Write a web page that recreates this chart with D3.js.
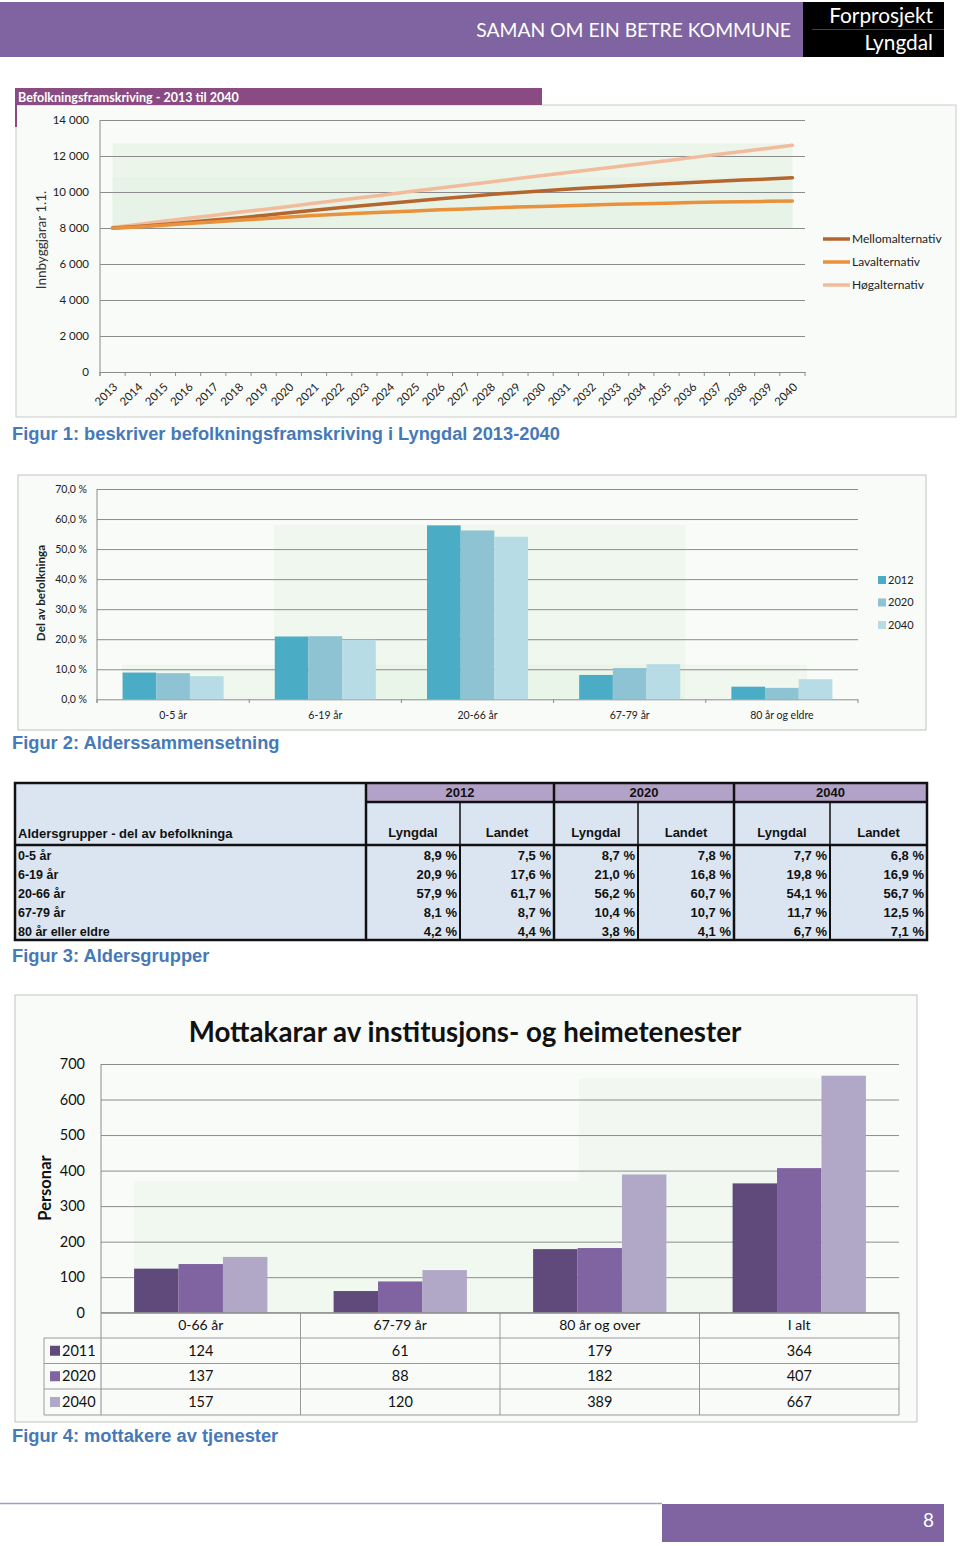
<!DOCTYPE html>
<html><head><meta charset="utf-8">
<script src="https://cdn.jsdelivr.net/npm/d3@7"></script>
<style>body{margin:0;background:#fff} svg{display:block}</style>
</head><body><svg id="page" width="960" height="1546"></svg>
<script>
// ---------- DATA ----------
const years = ["2013","2014","2015","2016","2017","2018","2019","2020","2021","2022","2023","2024","2025","2026","2027","2028","2029","2030","2031","2032","2033","2034","2035","2036","2037","2038","2039","2040"];
const mellom = [8000,8090,8200,8320,8440,8560,8700,8850,8990,9120,9250,9380,9500,9620,9740,9860,9960,10060,10150,10230,10310,10390,10460,10530,10600,10660,10720,10790];
const lav    = [7990,8060,8150,8250,8340,8430,8520,8610,8690,8760,8830,8890,8950,9010,9060,9110,9160,9200,9240,9280,9320,9350,9380,9410,9440,9460,9480,9500];
const hog    = [8030,8200,8370,8540,8700,8870,9030,9200,9370,9540,9710,9880,10050,10220,10390,10560,10730,10900,11070,11230,11400,11570,11740,11910,12080,12250,12420,12600];
const popSeries = ["Mellomalternativ","Lavalternativ","Høgalternativ"];
const popTicks = [0,2000,4000,6000,8000,10000,12000,14000];

const ageGroups = ["0-5 år","6-19 år","20-66 år","67-79 år","80 år og eldre"];
const shareYears = ["2012","2020","2040"];
const share2012 = [8.9,20.9,57.9,8.1,4.2];
const share2020 = [8.7,21.0,56.2,10.4,3.8];
const share2040 = [7.7,19.8,54.1,11.7,6.7];
const shareTicks = [0,10,20,30,40,50,60,70];

const tableRows = ["0-5 år","6-19 år","20-66 år","67-79 år","80 år eller eldre"];
const tableYears = ["2012","2020","2040"];
const tableCols = ["Lyngdal","Landet"];
const landet2012 = [7.5,17.6,61.7,8.7,4.4];
const landet2020 = [7.8,16.8,60.7,10.7,4.1];
const landet2040 = [6.8,16.9,56.7,12.5,7.1];

const serviceGroups = ["0-66 år","67-79 år","80 år og over","I alt"];
const recvYears = ["2011","2020","2040"];
const recv2011 = [124,61,179,364];
const recv2020 = [137,88,182,407];
const recv2040 = [157,120,389,667];
const recvTicks = [0,100,200,300,400,500,600,700];

// ---------- HELPERS ----------
const svg = d3.select("#page");
const loc = d3.formatLocale({decimal:",", thousands:" ", grouping:[3], currency:["","kr"]});
const fThousands = loc.format(",d");
const fPct = loc.format(".1f");
const CAL = "Lato, 'Open Sans', sans-serif";
const ARI = "'Liberation Sans', Arial, sans-serif";
const capColor = "#4579b8";
const capSize = "18.3px";

// ---------- HEADER ----------
svg.append("rect").attr("x",0).attr("y",2).attr("width",803).attr("height",55).attr("fill","#8064a2");
svg.append("rect").attr("x",803).attr("y",2).attr("width",141).attr("height",55).attr("fill","#000");
svg.append("line").attr("x1",812).attr("x2",944).attr("y1",29.5).attr("y2",29.5).attr("stroke","#444");
svg.append("text").attr("x",791).attr("y",37).attr("text-anchor","end").attr("fill","#fff")
  .style("font-family",CAL).style("font-size","19.3px").text("SAMAN OM EIN BETRE KOMMUNE");
svg.append("text").attr("x",933).attr("y",23).attr("text-anchor","end").attr("fill","#fff")
  .style("font-family",CAL).style("font-size","20.8px").text("Forprosjekt");
svg.append("text").attr("x",933).attr("y",50).attr("text-anchor","end").attr("fill","#fff")
  .style("font-family",CAL).style("font-size","20.8px").text("Lyngdal");

// ---------- CHART 1 ----------
const c1 = svg.append("g");
c1.append("rect").attr("x",16).attr("y",105).attr("width",940).attr("height",312).attr("fill","#f8fbf8").attr("stroke","#c8cbc8");
c1.append("rect").attr("x",15).attr("y",88).attr("width",527).attr("height",17).attr("fill","#8a4a82");
c1.append("rect").attr("x",15).attr("y",105).attr("width",2).attr("height",22).attr("fill","#8a4a82");
c1.append("text").attr("x",18).attr("y",101.5).attr("fill","#fff").style("font-family",CAL).style("font-weight","bold").style("font-size","12.5px")
  .text("Befolkningsframskriving - 2013 til 2040");

const x1 = d3.scaleBand().domain(years).range([100,805]).padding(0);
const y1 = d3.scaleLinear().domain([0,14000]).range([372,120]);
c1.append("rect").attr("x",x1("2013")+x1.bandwidth()/2).attr("y",y1(12700)).attr("width",x1("2040")-x1("2013"))
  .attr("height",y1(8000)-y1(12700)).attr("fill","#e3f2e1").attr("opacity",0.6);
c1.append("rect").attr("x",x1("2013")+x1.bandwidth()/2).attr("y",y1(10800)).attr("width",x1("2040")-x1("2013"))
  .attr("height",y1(8000)-y1(10800)).attr("fill","#e3f2e1").attr("opacity",0.5);

c1.append("g").attr("transform","translate(100,0)")
  .call(d3.axisLeft(y1).tickValues(popTicks).tickSize(-705).tickFormat(fThousands).tickPadding(11))
  .call(g=>{g.select(".domain").remove();
    g.selectAll(".tick line").attr("stroke","#8c8c8c");
    g.selectAll(".tick text").style("font-family",CAL).style("font-size","11.5px").attr("fill","#222");});
c1.append("line").attr("x1",100).attr("x2",100).attr("y1",120).attr("y2",376).attr("stroke","#8c8c8c");
const xa1 = c1.append("g").attr("transform","translate(0,372)")
  .call(d3.axisBottom(x1).tickSize(0).tickFormat(""));
xa1.select(".domain").attr("stroke","#8c8c8c");
c1.selectAll(".xt1").data(years.concat(["end"])).enter().append("line")
  .attr("x1",d=>d==="end"?805:x1(d)).attr("x2",d=>d==="end"?805:x1(d)).attr("y1",372).attr("y2",376).attr("stroke","#8c8c8c");
c1.selectAll(".xl1").data(years).enter().append("text")
  .attr("transform",d=>`translate(${x1(d)+x1.bandwidth()/2},${382}) rotate(-45)`)
  .attr("text-anchor","end").attr("dy","0.7em").style("font-family",CAL).style("font-size","11.5px").attr("fill","#222").text(d=>d);
c1.append("text").attr("transform","translate(46,240) rotate(-90)").attr("text-anchor","middle")
  .style("font-family",CAL).style("font-size","13.5px").attr("fill","#333").text("Innbyggjarar 1.1.");

const popData = [mellom, lav, hog];
const popColors = ["#b5662f","#e9913b","#f2bb9b"];
const line1 = d3.line().x((d,i)=>x1(years[i])+x1.bandwidth()/2).y(d=>y1(d));
[2,0,1].forEach(i=>{
  c1.append("path").datum(popData[i]).attr("d",line1).attr("fill","none").attr("stroke",popColors[i]).attr("stroke-width",3.5).attr("stroke-linecap","round");
});
popSeries.forEach((s,i)=>{
  const yy = 239 + i*23;
  c1.append("line").attr("x1",823).attr("x2",850).attr("y1",yy).attr("y2",yy).attr("stroke",popColors[i]).attr("stroke-width",3.5);
  c1.append("text").attr("x",852).attr("y",yy).attr("dy","0.35em").style("font-family",CAL).style("font-size","12px").attr("fill","#222").text(s);
});
svg.append("text").attr("x",12).attr("y",440).attr("fill",capColor).style("font-family",ARI).style("font-weight","bold").style("font-size",capSize)
  .text("Figur 1: beskriver befolkningsframskriving i Lyngdal 2013-2040");

// ---------- CHART 2 ----------
const c2 = svg.append("g");
c2.append("rect").attr("x",18).attr("y",475).attr("width",908).attr("height",255).attr("fill","#f8fbf8").attr("stroke","#c0c3c0");
const x2 = d3.scaleBand().domain(ageGroups).range([97,858]).padding(0);
const x2i = d3.scaleBand().domain(shareYears).range([0,x2.bandwidth()]).paddingInner(0).paddingOuter(0.76);
const y2 = d3.scaleLinear().domain([0,70]).range([699.3,489]);
c2.append("rect").attr("x",x2("6-19 år")+25).attr("y",y2(58)).attr("width",x2.bandwidth()*2.7).attr("height",y2(0)-y2(58)).attr("fill","#e5f3e3").attr("opacity",0.5);
c2.append("rect").attr("x",x2("0-5 år")+25).attr("y",y2(11.5)).attr("width",x2.bandwidth()*4.5).attr("height",y2(0)-y2(11.5)).attr("fill","#e5f3e3").attr("opacity",0.5);
c2.append("g").attr("transform","translate(97,0)")
  .call(d3.axisLeft(y2).tickValues(shareTicks).tickSize(-761).tickFormat(d=>fPct(d)+" %").tickPadding(10))
  .call(g=>{g.select(".domain").remove();
    g.selectAll(".tick line").attr("stroke","#8c8c8c");
    g.selectAll(".tick text").style("font-family",CAL).style("font-size","10.5px").attr("fill","#222");});
c2.append("line").attr("x1",97).attr("x2",97).attr("y1",489).attr("y2",703).attr("stroke","#8c8c8c");
c2.selectAll(".xt2").data(ageGroups.concat(["end"])).enter().append("line")
  .attr("x1",d=>d==="end"?858:x2(d)).attr("x2",d=>d==="end"?858:x2(d)).attr("y1",699.3).attr("y2",703).attr("stroke","#8c8c8c");
c2.selectAll(".xl2").data(ageGroups).enter().append("text")
  .attr("x",d=>x2(d)+x2.bandwidth()/2).attr("y",719).attr("text-anchor","middle")
  .style("font-family",CAL).style("font-size","10.5px").attr("fill","#222").text(d=>d);
const shareData = [share2012, share2020, share2040];
const shareColors = ["#4bacc6","#8dc3d3","#b7dce6"];
shareYears.forEach((yr,si)=>{
  c2.selectAll(".b2"+si).data(ageGroups).enter().append("rect")
    .attr("x",d=>x2(d)+x2i(yr)).attr("width",x2i.bandwidth())
    .attr("y",(d,i)=>y2(shareData[si][i])).attr("height",(d,i)=>y2(0)-y2(shareData[si][i]))
    .attr("fill",shareColors[si]);
  const yy = 580 + si*22.5;
  c2.append("rect").attr("x",878).attr("y",yy-4).attr("width",8).attr("height",8).attr("fill",shareColors[si]);
  c2.append("text").attr("x",888).attr("y",yy).attr("dy","0.35em").style("font-family",CAL).style("font-size","11px").attr("fill","#222").text(yr);
});
c2.append("text").attr("transform","translate(45,593) rotate(-90)").attr("text-anchor","middle")
  .style("font-family",CAL).style("font-weight","bold").style("font-size","11.7px").attr("fill","#222").text("Del av befolkninga");
svg.append("text").attr("x",12).attr("y",749).attr("fill",capColor).style("font-family",ARI).style("font-weight","bold").style("font-size",capSize)
  .text("Figur 2: Alderssammensetning");

// ---------- TABLE (FIGUR 3) ----------
const t = svg.append("g");
const colX = [15,366,460,554,638,734,830,927];
const rowY0 = 783, rowY1 = 802, rowY2 = 845, rowH = 19;
const tableData = [share2012, landet2012, share2020, landet2020, share2040, landet2040];
t.append("rect").attr("x",15).attr("y",rowY0).attr("width",912).attr("height",rowY2+5*rowH-rowY0).attr("fill","#dbe5f1");
t.append("rect").attr("x",366).attr("y",rowY0).attr("width",561).attr("height",rowY1-rowY0).attr("fill","#b3a2c7");
tableYears.forEach((yr,i)=>{
  t.append("text").attr("x",(colX[1+2*i]+colX[3+2*i])/2).attr("y",797).attr("text-anchor","middle")
    .style("font-family",ARI).style("font-weight","bold").style("font-size","13px").attr("fill","#111").text(yr);
  tableCols.forEach((c,j)=>{
    const k = 1+2*i+j;
    t.append("text").attr("x",(colX[k]+colX[k+1])/2).attr("y",837).attr("text-anchor","middle")
      .style("font-family",ARI).style("font-weight","bold").style("font-size","13px").attr("fill","#111").text(c);
  });
});
t.append("text").attr("x",18).attr("y",838).style("font-family",ARI).style("font-weight","bold").style("font-size","13px").attr("fill","#111")
  .text("Aldersgrupper - del av befolkninga");
tableRows.forEach((r,ri)=>{
  const yb = rowY2 + ri*rowH + 15;
  t.append("text").attr("x",18).attr("y",yb).style("font-family",ARI).style("font-weight","bold").style("font-size","12.5px").attr("fill","#111").text(r);
  tableData.forEach((col,ci)=>{
    t.append("text").attr("x",colX[ci+2]-3).attr("y",yb).attr("text-anchor","end")
      .style("font-family",ARI).style("font-weight","bold").style("font-size","13px").attr("fill","#111").text(fPct(col[ri])+" %");
  });
});
const tb = rowY2 + 5*rowH;
t.append("rect").attr("x",15).attr("y",rowY0).attr("width",912).attr("height",tb-rowY0).attr("fill","none").attr("stroke","#111").attr("stroke-width",2.5);
t.append("line").attr("x1",366).attr("x2",927).attr("y1",rowY1).attr("y2",rowY1).attr("stroke","#111").attr("stroke-width",2.5);
t.append("line").attr("x1",15).attr("x2",927).attr("y1",rowY2).attr("y2",rowY2).attr("stroke","#111").attr("stroke-width",2.5);
[366,554,734].forEach(x=>t.append("line").attr("x1",x).attr("x2",x).attr("y1",rowY0).attr("y2",tb).attr("stroke","#111").attr("stroke-width",2.5));
[460,638,830].forEach(x=>{
  t.append("line").attr("x1",x).attr("x2",x).attr("y1",rowY1).attr("y2",rowY2).attr("stroke","#111").attr("stroke-width",1.5);
  t.append("line").attr("x1",x).attr("x2",x).attr("y1",rowY2).attr("y2",tb).attr("stroke","#111").attr("stroke-width",2);
});
svg.append("text").attr("x",12).attr("y",962).attr("fill",capColor).style("font-family",ARI).style("font-weight","bold").style("font-size",capSize)
  .text("Figur 3: Aldersgrupper");

// ---------- CHART 4 ----------
const c4 = svg.append("g");
c4.append("rect").attr("x",15).attr("y",995).attr("width",902).attr("height",427).attr("fill","#f9fbf9").attr("stroke","#c0c3c0");
c4.append("text").attr("x",465).attr("y",1042).attr("text-anchor","middle").style("font-family",CAL).style("font-weight","bold").style("font-size","27.7px").attr("fill","#111")
  .text("Mottakarar av institusjons- og heimetenester");
const x4 = d3.scaleBand().domain(serviceGroups).range([101,899]).padding(0);
const x4i = d3.scaleBand().domain(recvYears).range([0,x4.bandwidth()]).paddingInner(0).paddingOuter(0.745);
const y4 = d3.scaleLinear().domain([0,700]).range([1312.7,1064]);
c4.append("rect").attr("x",134).attr("y",y4(370)).attr("width",700).attr("height",y4(0)-y4(370)).attr("fill","#e5f3e3").attr("opacity",0.45);
c4.append("rect").attr("x",579).attr("y",y4(660)).attr("width",260).attr("height",y4(370)-y4(660)).attr("fill","#e5f3e3").attr("opacity",0.35);
c4.append("g").attr("transform","translate(101,0)")
  .call(d3.axisLeft(y4).tickValues(recvTicks).tickSize(-798).tickFormat(d3.format("d")).tickPadding(16))
  .call(g=>{g.select(".domain").remove();
    g.selectAll(".tick line").attr("stroke","#8c8c8c");
    g.selectAll(".tick text").style("font-family",CAL).style("font-size","14.5px").attr("fill","#111");});
c4.append("line").attr("x1",101).attr("x2",101).attr("y1",1064).attr("y2",1415).attr("stroke","#8c8c8c");
const recvData = [recv2011, recv2020, recv2040];
const recvColors = ["#604a7b","#8064a2","#b1a7c7"];
recvYears.forEach((yr,si)=>{
  c4.selectAll(".b4"+si).data(serviceGroups).enter().append("rect")
    .attr("x",d=>x4(d)+x4i(yr)).attr("width",x4i.bandwidth())
    .attr("y",(d,i)=>y4(recvData[si][i])).attr("height",(d,i)=>y4(0)-y4(recvData[si][i]))
    .attr("fill",recvColors[si]);
});
const tr = [1312.7,1338,1363.5,1389,1415];
c4.append("line").attr("x1",101).attr("x2",899).attr("y1",tr[0]).attr("y2",tr[0]).attr("stroke","#8c8c8c");
[1,2,3,4].forEach(k=>c4.append("line").attr("x1",44).attr("x2",899).attr("y1",tr[k]).attr("y2",tr[k]).attr("stroke","#999"));
c4.append("line").attr("x1",44).attr("x2",44).attr("y1",tr[1]).attr("y2",tr[4]).attr("stroke","#999");
serviceGroups.forEach(g=>c4.append("line").attr("x1",x4(g)+x4.bandwidth()).attr("x2",x4(g)+x4.bandwidth()).attr("y1",tr[0]).attr("y2",tr[4]).attr("stroke","#999"));
c4.selectAll(".xl4").data(serviceGroups).enter().append("text")
  .attr("x",d=>x4(d)+x4.bandwidth()/2).attr("y",(tr[0]+tr[1])/2).attr("dy","0.35em").attr("text-anchor","middle")
  .style("font-family",CAL).style("font-size","14px").attr("fill","#111").text(d=>d);
recvYears.forEach((yr,si)=>{
  const yc = (tr[si+1]+tr[si+2])/2;
  c4.append("rect").attr("x",50).attr("y",yc-5).attr("width",10).attr("height",10).attr("fill",recvColors[si]);
  c4.append("text").attr("x",62).attr("y",yc).attr("dy","0.35em").style("font-family",CAL).style("font-size","14.5px").attr("fill","#111").text(yr);
  serviceGroups.forEach((g,gi)=>{
    c4.append("text").attr("x",x4(g)+x4.bandwidth()/2).attr("y",yc).attr("dy","0.35em").attr("text-anchor","middle")
      .style("font-family",CAL).style("font-size","14.5px").attr("fill","#111").text(recvData[si][gi]);
  });
});
c4.append("text").attr("transform","translate(51,1188) rotate(-90)").attr("text-anchor","middle")
  .style("font-family",CAL).style("font-weight","bold").style("font-size","16.5px").attr("fill","#111").text("Personar");
svg.append("text").attr("x",12).attr("y",1442).attr("fill",capColor).style("font-family",ARI).style("font-weight","bold").style("font-size",capSize)
  .text("Figur 4: mottakere av tjenester");

// ---------- FOOTER ----------
svg.append("line").attr("x1",0).attr("x2",662).attr("y1",1503.5).attr("y2",1503.5).attr("stroke","#a99cbf").attr("stroke-width",1.5);
svg.append("rect").attr("x",662).attr("y",1504).attr("width",282).attr("height",38).attr("fill","#8064a2");
svg.append("text").attr("x",934).attr("y",1527).attr("text-anchor","end").attr("fill","#fff").style("font-family",CAL).style("font-size","19px").text("8");
</script></body></html>
